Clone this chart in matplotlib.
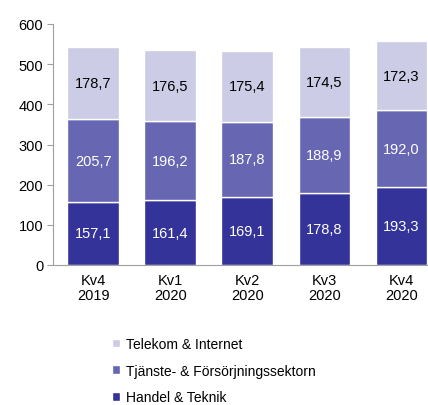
import matplotlib
matplotlib.use("Agg")
import matplotlib.pyplot as plt
import numpy as np

plt.rcParams['font.family'] = ['Liberation Sans', 'DejaVu Sans']

kvartal = ["Kv4\n2019", "Kv1\n2020", "Kv2\n2020", "Kv3\n2020", "Kv4\n2020"]
handel = [157.1, 161.4, 169.1, 178.8, 193.3]
tjanste = [205.7, 196.2, 187.8, 188.9, 192.0]
telekom = [178.7, 176.5, 175.4, 174.5, 172.3]

serier = [
    ("Handel & Teknik", handel, "#333399", "white"),
    ("Tjänste- & Försörjningssektorn", tjanste, "#6666b3", "white"),
    ("Telekom & Internet", telekom, "#cccce6", "black"),
]

fig = plt.figure(figsize=(4.28, 4.06), dpi=100)
ax = fig.add_axes([53/428, 1 - 266/406, 387/428, 241/406])

x = np.arange(len(kvartal))
bottom = np.zeros(len(kvartal))
handles = []
for namn, varden, farg, textfarg in serier:
    b = ax.bar(x, varden, 0.67, bottom=bottom, color=farg, edgecolor="white", linewidth=1, label=namn)
    handles.append(b)
    for xi, v, bo in zip(x, varden, bottom):
        ax.text(xi, bo + v / 2, f"{v:.1f}".replace(".", ","), ha="center", va="center",
                color=textfarg, fontsize=10.5)
    bottom = bottom + np.array(varden)

ax.set_xlim(-0.52, 4.5)
ax.set_ylim(0, 600)
ax.set_yticks(range(0, 601, 100))
ax.set_xticks(x)
ax.set_xticklabels(kvartal, fontsize=10.5, linespacing=1.1)
ax.tick_params(axis="y", labelsize=10.5, length=4, color="#a0a0a0", pad=3)
ax.tick_params(axis="x", length=0, pad=6)
for s in ["top", "right"]:
    ax.spines[s].set_visible(False)
ax.spines["left"].set_color("#a0a0a0")
ax.spines["bottom"].set_color("#a0a0a0")

fig.legend(handles[::-1], [h.get_label() for h in handles[::-1]], loc="upper left",
           bbox_to_anchor=(105/428, 1 - 331/406), frameon=False, fontsize=10,
           handlelength=0.6, handleheight=0.6, handletextpad=0.4, labelspacing=0.92,
           borderpad=0)

fig.savefig("out.png", dpi=100)
